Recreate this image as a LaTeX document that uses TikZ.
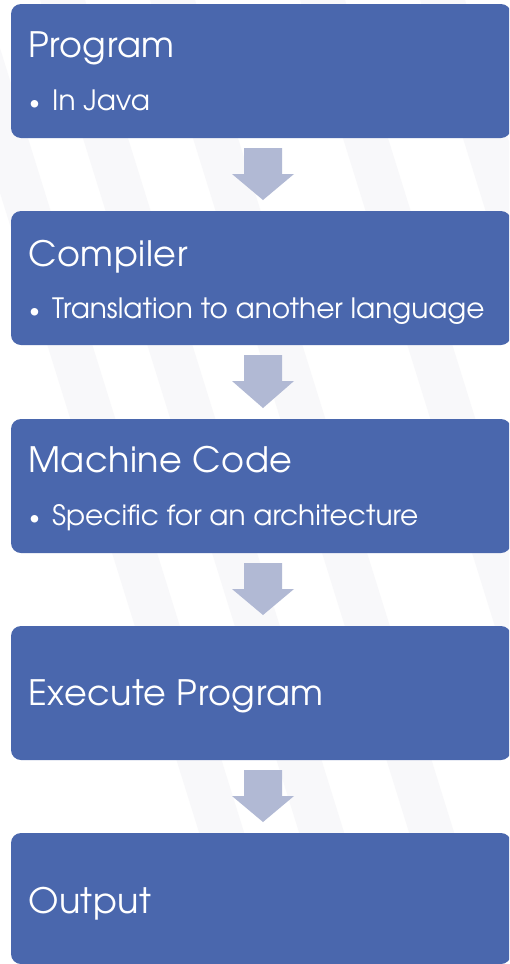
\documentclass[tikz,border=0pt]{standalone}
\usepackage{fontspec}
\setmainfont{TeX Gyre Adventor}
\usetikzlibrary{calc}
\definecolor{boxblue}{HTML}{4A67AD}
\definecolor{arrowgray}{HTML}{B1B9D4}
\definecolor{stripe}{HTML}{F8F8FA}

\begin{document}
\begin{tikzpicture}[x=1pt,y=-1pt,
  stepbox/.style={fill=boxblue, rounded corners=10pt, minimum width=500pt,
    minimum height=134pt, anchor=north west, inner sep=0pt, outer sep=0pt},
  title/.style={text=white, font=\fontsize{35}{40}\selectfont\addfontfeature{LetterSpace=1.5},
    anchor=base west, inner sep=0pt},
  bullet/.style={text=white, font=\fontsize{28}{32}\selectfont, anchor=base west, inner sep=0pt},
  flow/.style={fill=arrowgray}]

% page and faint diagonal texture
\useasboundingbox (0,0) rectangle (509,964);
\clip (0,0) rectangle (509,964);
\fill[white] (0,0) rectangle (509,964);
\foreach \s in {-60,40,150,300,420}{
  \fill[stripe] (\s,0) -- (\s+45,0) -- (\s+345,964) -- (\s+300,964) -- cycle;
}

% the five stages
\node[stepbox] (b1) at (11,4)   {};
\node[stepbox] (b2) at (11,211) {};
\node[stepbox] (b3) at (11,419) {};
\node[stepbox] (b4) at (11,626) {};
\node[stepbox, minimum height=131pt] (b5) at (11,833) {};

\node[title]  (t1) at ($(b1.north west)+(17,53)$)  {Program};
\node[bullet] (s1) at ($(b1.north west)+(18,106)$) {\makebox[23pt][l]{\raisebox{1pt}{\scalebox{0.75}{•}}}In Java};
\node[title]  (t2) at ($(b2.north west)+(17,55)$)  {Compiler};
\node[bullet] (s2) at ($(b2.north west)+(18,107)$) {\makebox[23pt][l]{\raisebox{1pt}{\scalebox{0.75}{•}}}Translation to another language};
\node[title]  (t3) at ($(b3.north west)+(17,53)$)  {Machine Code};
\node[bullet] (s3) at ($(b3.north west)+(18,106)$) {\makebox[23pt][l]{\raisebox{1pt}{\scalebox{0.75}{•}}}Specific for an architecture};
\node[title]  (t4) at ($(b4.north west)+(17,79)$)  {Execute Program};
\node[title]  (t5) at ($(b5.north west)+(17,80)$)  {Output};

% block arrows between consecutive stages
\foreach \u/\v in {b1/b2,b2/b3,b3/b4,b4/b5}{
  \fill[flow] ($(\u.south)+(-17,10)$) -- ($(\u.south)+(21,10)$)
    -- ($(\u.south)+(21,36)$) -- ($(\u.south)+(33,36)$)
    -- ($(\v.north)+(2,-11)$)
    -- ($(\u.south)+(-29,36)$) -- ($(\u.south)+(-17,36)$) -- cycle;
}
\end{tikzpicture}
\end{document}
